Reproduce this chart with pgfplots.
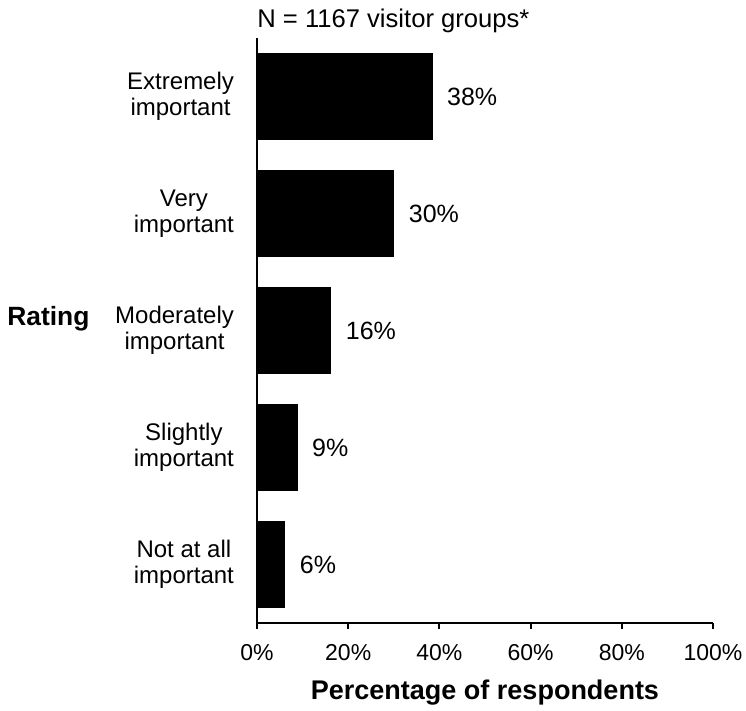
\documentclass[border=0pt]{standalone}
\usepackage{pgfplots}
\pgfplotsset{compat=1.18}
\usepackage{fontspec}
\setmainfont{Liberation Sans}

\begin{document}
\begin{tikzpicture}
% page size matched to the reference (1px = 0.5pt)
\path[use as bounding box] (-128.5pt,-44pt) rectangle (244.5pt,311.5pt);
\begin{axis}[
    xbar,
    scale only axis,
    width=228pt, height=292.5pt,
    anchor=south west, at={(0,0)},
    xmin=0, xmax=100,
    ymin=-0.5, ymax=4.5,
    y dir=reverse,
    bar width=43pt,
    axis x line*=bottom,
    axis y line*=left,
    axis line style={line width=1pt},
    xtick={0,20,...,100},
    xtick style={line width=1pt, black},
    tick align=outside,
    major tick length=3pt,
    xticklabel={\pgfmathprintnumber{\tick}\%},
    /pgf/number format/assume math mode=true,
    ytick={0,1,2,3,4},
    yticklabels={Extremely\\important, Very\\important, Moderately\\important, Slightly\\important, Not at all\\important},
    ytick style={draw=none},
    yticklabel style={align=center, font=\fontsize{12}{13}\selectfont, xshift=-5pt},
    xticklabel style={font=\fontsize{11.5}{13}\selectfont, yshift=-4pt},
    xlabel={Percentage of respondents},
    xlabel style={font=\fontsize{13.5}{15}\bfseries\selectfont, yshift=-3pt},
    ylabel={Rating},
    every axis y label/.style={at={(ticklabel cs:0.52)}, anchor=east, xshift=-6pt, font=\fontsize{13.2}{15}\bfseries\selectfont},
    nodes near coords={\pgfmathprintnumber[fixed,precision=0]{\pgfplotspointmeta}\%},
    nodes near coords style={font=\fontsize{12.5}{14}\selectfont, anchor=west, xshift=4pt},
    point meta=x,
    clip=false,
]
\addplot[fill=black, draw=black] coordinates {
(38.4,0)
(30.0,1)
(16.2,2)
(8.8,3)
(6.1,4)};
\end{axis}
\node[anchor=base west, inner sep=0pt, font=\fontsize{12.8}{15}\selectfont] at (0pt,297.5pt) {N = 1167 visitor groups*};
\end{tikzpicture}
\end{document}
